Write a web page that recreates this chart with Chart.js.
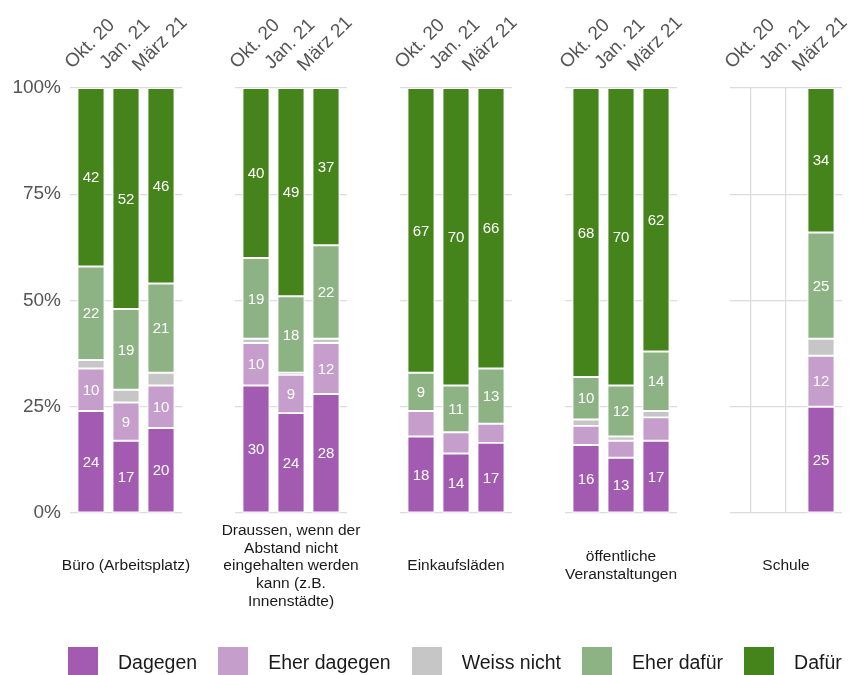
<!DOCTYPE html>
<html>
<head>
<meta charset="utf-8">
<script src="https://cdn.jsdelivr.net/npm/chart.js@4.4.1/dist/chart.umd.min.js"></script>
<style>
  html, body { margin: 0; padding: 0; background: #fff; }
  #wrap { position: relative; width: 851px; height: 675px; overflow: hidden; }
  #wrap canvas { position: absolute; left: 0; top: 0; }
  #legend { position: absolute; left: 68px; top: 647px; display: flex; align-items: center;
            font: 19.5px "Liberation Sans", Arial, sans-serif; color: #1a1a1a; white-space: nowrap; }
  .item { display: flex; align-items: center; margin-right: 21px; }
  .box { width: 30px; height: 30px; margin-right: 20px; }
</style>
</head>
<body>
<div id="wrap"><div id="legend"></div></div>
<script>
// Panels (facets) and survey waves
const panels = [
    'Büro (Arbeitsplatz)',
    'Draussen, wenn der\nAbstand nicht\neingehalten werden\nkann (z.B.\nInnenstädte)',
    'Einkaufsläden',
    'öffentliche\nVeranstaltungen',
    'Schule'
];
const waves = ['Okt. 20', 'Jan. 21', 'März 21'];
const answers = ['Dagegen', 'Eher dagegen', 'Weiss nicht', 'Eher dafür', 'Dafür'];
const colors = ['#a35bb1', '#c59ecc', '#c6c6c6', '#8db385', '#45841b'];
const yTicks = [0, 25, 50, 75, 100];

// Werte in % pro Panel, je [Okt. 20, Jan. 21, März 21]
const dagegen     = [[24, 17, 20], [30, 23.5, 28], [18, 14, 16.5], [16, 13, 17], [null, null, 25]];
const eherDagegen = [[10, 9, 10], [10, 9, 12], [6, 5, 4.5], [4.5, 4, 5.5], [null, null, 12]];
const weissNicht  = [[2, 3, 3], [1, 0.5, 1], [0, 0, 0], [1.5, 1, 1.5], [null, null, 4]];
const eherDafuer  = [[22, 19, 21], [19, 18, 22], [9, 11, 13], [10, 12, 14], [null, null, 25]];
const dafuer      = [[42, 52, 46], [40, 49, 37], [67, 70, 66], [68, 70, 62], [null, null, 34]];
const series = [dagegen, eherDagegen, weissNicht, eherDafuer, dafuer];

const W = 851, H = 675;
const PANEL_LEFT = [70, 235, 400, 565, 730];
const PANEL_W = 112;
const PLOT_TOP = 88, PLOT_BOTTOM = 513;
const GRID = '#dcdcdc';
const FONT = '"Liberation Sans", Arial, Helvetica, sans-serif';

const wrap = document.getElementById('wrap');

// Zahlen in den Segmenten
const valueLabels = {
    id: 'valueLabels',
    afterDatasetsDraw(chart) {
        const ctx = chart.ctx;
        ctx.save();
        ctx.fillStyle = '#fff';
        ctx.font = `15px ${FONT}`;
        ctx.textAlign = 'center';
        ctx.textBaseline = 'middle';
        chart.data.datasets.forEach((ds, k) => {
            chart.getDatasetMeta(k).data.forEach((bar, i) => {
                const v = ds.data[i].y;
                if (v == null || v < 8) return;
                ctx.fillText(String(Math.round(v)), bar.x, (bar.y + bar.base) / 2 + 1);
            });
        });
        ctx.restore();
    }
};

// Wellen oben (gedreht) und Panel-Titel unten
const panelText = {
    id: 'panelText',
    afterDraw(chart) {
        const ctx = chart.ctx;
        const xs = chart.scales.x;
        const area = chart.chartArea;
        ctx.save();
        ctx.fillStyle = '#555';
        ctx.font = `19px ${FONT}`;
        ctx.textAlign = 'center';
        ctx.textBaseline = 'middle';
        waves.forEach((w, i) => {
            ctx.save();
            ctx.translate(xs.getPixelForValue(i) - 1, 44);
            ctx.rotate(-Math.PI / 4);
            ctx.fillText(w, 0, 0);
            ctx.restore();
        });

        const lines = chart.options.panelTitle.split('\n');
        const lh = 17.7;
        const cx = (area.left + area.right) / 2;
        const y0 = 566 - (lines.length - 1) * lh / 2;
        ctx.fillStyle = '#1a1a1a';
        ctx.font = `15.5px ${FONT}`;
        lines.forEach((l, j) => ctx.fillText(l, cx, y0 + j * lh));
        ctx.restore();
    }
};

panels.forEach((title, p) => {
    const canvas = document.createElement('canvas');
    canvas.width = W;
    canvas.height = H;
    wrap.appendChild(canvas);

    // das erste Panel traegt die y-Achse, deren Breite bis zum Plotbereich reicht
    const yWidth = p === 0 ? PANEL_LEFT[0] : 0;

    new Chart(canvas, {
        type: 'bar',
        data: {
            datasets: answers.map((a, k) => ({
                label: a,
                data: waves.map((w, i) => ({ x: i, y: series[k][p][i] })),
                backgroundColor: colors[k],
                borderColor: '#fff',
                borderWidth: 1.25,
                borderSkipped: false,
                barThickness: 27
            }))
        },
        options: {
            responsive: false,
            animation: false,
            devicePixelRatio: 1,
            panelTitle: title,
            layout: {
                padding: {
                    left: PANEL_LEFT[p] - yWidth,
                    right: W - PANEL_LEFT[p] - PANEL_W,
                    top: PLOT_TOP,
                    bottom: H - PLOT_BOTTOM
                }
            },
            scales: {
                x: {
                    type: 'linear',
                    position: 'top',
                    stacked: true,
                    offset: false,
                    min: -0.6,
                    max: 2.6,
                    afterBuildTicks: s => { s.ticks = waves.map((w, i) => ({ value: i })); },
                    afterFit: s => { s.height = 0; },
                    ticks: { display: false },
                    grid: { color: GRID, lineWidth: 1.3, drawTicks: false, offset: false },
                    border: { display: false }
                },
                y: {
                    stacked: true,
                    min: 0,
                    max: 100,
                    afterBuildTicks: s => { s.ticks = yTicks.map(v => ({ value: v })); },
                    afterFit: s => { s.width = yWidth; },
                    ticks: {
                        display: p === 0,
                        padding: 9,
                        color: '#555',
                        font: { family: FONT, size: 19 },
                        callback: v => v + '%'
                    },
                    grid: { color: GRID, lineWidth: 1.3, drawTicks: false },
                    border: { display: false }
                }
            },
            plugins: {
                legend: { display: false },
                tooltip: { enabled: false }
            }
        },
        plugins: [valueLabels, panelText]
    });
});

// Legende
const legendEl = document.getElementById('legend');
legendEl.innerHTML = answers.map((a, k) =>
    `<div class="item"><div class="box" style="background:${colors[k]}"></div><span>${a}</span></div>`
).join('');
wrap.appendChild(legendEl);
</script>
</body>
</html>
